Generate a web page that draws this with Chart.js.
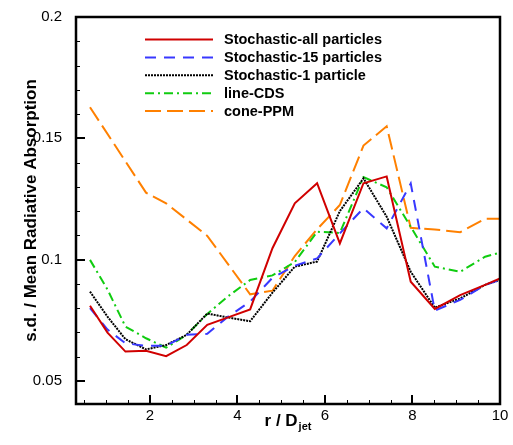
<!DOCTYPE html>
<html>
<head>
<meta charset="utf-8">
<style>
  html, body { margin: 0; padding: 0; background: #ffffff; }
  #wrap { width: 513px; height: 445px; }
</style>
<script src="https://cdn.jsdelivr.net/npm/chart.js@4/dist/chart.umd.min.js"></script>
</head>
<body>
<div id="wrap"><canvas id="c" width="513" height="445"></canvas></div>
<script>
// Radial stations r / D_jet used by the stochastic and line-CDS runs
const radius = [0.63, 1.03, 1.44, 1.91, 2.37, 2.84, 3.31, 3.77, 4.29, 4.80,
                5.31, 5.82, 6.34, 6.88, 7.41, 7.96, 8.51, 9.09, 9.66, 10.0];
// Radial stations used by the cone-PPM run
const radiusCone = [0.63, 1.91, 2.37, 3.31, 4.29, 4.80, 5.31, 5.82, 6.34, 6.88,
                    7.41, 7.96, 8.51, 9.09, 9.66, 10.0];

// s.d. / mean radiative absorption for each model
const stochAll = [0.0810, 0.0699, 0.0621, 0.0624, 0.0602, 0.0648, 0.0731, 0.0761, 0.0795, 0.1047,
                  0.1232, 0.1315, 0.1067, 0.1315, 0.1343, 0.0909, 0.0797, 0.0854, 0.0896, 0.0923];
const stoch15 = [0.0800, 0.0712, 0.0655, 0.0645, 0.0645, 0.0690, 0.0694, 0.0763, 0.0827, 0.0925,
                 0.0975, 0.1005, 0.1108, 0.1212, 0.1129, 0.1314, 0.0790, 0.0834, 0.0896, 0.0916];
const stoch1 = [0.0868, 0.0765, 0.0672, 0.0630, 0.0648, 0.0690, 0.0778, 0.0762, 0.0746, 0.0864,
                0.0971, 0.0992, 0.1200, 0.1335, 0.1177, 0.0950, 0.0802, 0.0840, 0.0896, 0.0916];
const lineCDS = [0.0999, 0.0877, 0.0724, 0.0676, 0.0637, 0.0690, 0.0776, 0.0847, 0.0916, 0.0935,
                 0.0990, 0.1115, 0.1110, 0.1340, 0.1298, 0.1135, 0.0971, 0.0950, 0.1012, 0.1029];
const conePPM = [0.1628, 0.1276, 0.1232, 0.1098, 0.0857, 0.0872, 0.1015, 0.1125, 0.1225, 0.1470,
                 0.1550, 0.1131, 0.1124, 0.1113, 0.1168, 0.1168];

const seriesLabels = ['Stochastic-all particles', 'Stochastic-15 particles',
                      'Stochastic-1 particle', 'line-CDS', 'cone-PPM'];

// Axis ranges and ticks
const xMin = 0.31, xMax = 10;
const yMin = 0.0405, yMax = 0.2;
const xMajorTicks = [2, 4, 6, 8, 10];
const yMajorTicks = [0.05, 0.1, 0.15, 0.2];
const xMinorStep = 0.5, yMinorStep = 0.01;

const FONT = '"Liberation Sans", Arial, Helvetica, sans-serif';

const pts = (xs, ys) => ys.map((v, i) => ({ x: xs[i], y: v }));

const datasets = [
  { label: seriesLabels[0], data: pts(radius, stochAll), borderColor: '#d00000', borderWidth: 2, borderDash: [] },
  { label: seriesLabels[1], data: pts(radius, stoch15), borderColor: '#3838ff', borderWidth: 2, borderDash: [11, 8] },
  { label: seriesLabels[2], data: pts(radius, stoch1), borderColor: '#000000', borderWidth: 2, borderDash: [2, 1] },
  { label: seriesLabels[3], data: pts(radius, lineCDS), borderColor: '#10cc10', borderWidth: 2, borderDash: [9, 4, 2, 4] },
  { label: seriesLabels[4], data: pts(radiusCone, conePPM), borderColor: '#ff8000', borderWidth: 2, borderDash: [16, 6] }
].map(d => Object.assign(d, { fill: false, pointRadius: 0, tension: 0, backgroundColor: d.borderColor }));

// Frame, inward tick marks, axis titles and the in-plot legend
const decorations = {
  id: 'decorations',
  afterDatasetsDraw(chart) {
    const { ctx, chartArea: a, scales: { x, y } } = chart;
    ctx.save();
    ctx.strokeStyle = '#000';

    // minor ticks
    ctx.lineWidth = 1;
    ctx.beginPath();
    for (let v = xMinorStep; v <= xMax + 1e-9; v += xMinorStep) {
      if (v < xMin) continue;
      const px = Math.round(x.getPixelForValue(v)) + 0.5;
      ctx.moveTo(px, a.bottom); ctx.lineTo(px, a.bottom - 4);
    }
    for (let v = 0.05; v <= yMax + 1e-9; v += yMinorStep) {
      const py = Math.round(y.getPixelForValue(v)) + 0.5;
      ctx.moveTo(a.left, py); ctx.lineTo(a.left + 4, py);
    }
    ctx.stroke();

    // major ticks
    ctx.lineWidth = 2;
    ctx.beginPath();
    xMajorTicks.forEach(v => {
      const px = Math.round(x.getPixelForValue(v));
      ctx.moveTo(px, a.bottom); ctx.lineTo(px, a.bottom - 9);
    });
    yMajorTicks.forEach(v => {
      const py = Math.round(y.getPixelForValue(v));
      ctx.moveTo(a.left, py); ctx.lineTo(a.left + 9, py);
    });
    ctx.stroke();

    // frame
    ctx.lineWidth = 2.5;
    ctx.strokeRect(a.left, a.top, a.right - a.left, a.bottom - a.top);

    // legend
    const lx0 = 145, lx1 = 213, tx = 224, ly0 = 39.5, dy = 17.9;
    ctx.font = 'bold 14.5px ' + FONT;
    ctx.textBaseline = 'middle';
    ctx.textAlign = 'left';
    chart.data.datasets.forEach((d, i) => {
      const yy = ly0 + i * dy;
      ctx.save();
      ctx.strokeStyle = d.borderColor;
      ctx.lineWidth = d.borderWidth;
      ctx.setLineDash(d.borderDash || []);
      ctx.beginPath();
      ctx.moveTo(lx0, yy); ctx.lineTo(lx1, yy);
      ctx.stroke();
      ctx.restore();
      ctx.fillStyle = '#000';
      ctx.fillText(d.label, tx, yy + 0.5);
    });

    // x-axis title: r / D with subscript jet
    const cx = (a.left + a.right) / 2;
    ctx.fillStyle = '#000';
    ctx.textBaseline = 'alphabetic';
    ctx.font = 'bold 17px ' + FONT;
    const mainTxt = 'r / D';
    const w1 = ctx.measureText(mainTxt).width;
    ctx.font = 'bold 11px ' + FONT;
    const w2 = ctx.measureText('jet').width;
    const start = cx - (w1 + w2 + 1) / 2;
    ctx.font = 'bold 17px ' + FONT;
    ctx.fillText(mainTxt, start, 426);
    ctx.font = 'bold 11px ' + FONT;
    ctx.fillText('jet', start + w1 + 1, 430);

    // y-axis title
    ctx.save();
    ctx.translate(31, (a.top + a.bottom) / 2);
    ctx.rotate(-Math.PI / 2);
    ctx.textAlign = 'center';
    ctx.textBaseline = 'middle';
    ctx.font = 'bold 17px ' + FONT;
    ctx.fillText('s.d. / Mean Radiative Absorption', 0, 0);
    ctx.restore();

    ctx.restore();
  }
};

new Chart(document.getElementById('c'), {
  type: 'line',
  data: { datasets },
  options: {
    responsive: false,
    devicePixelRatio: 1,
    animation: false,
    layout: { padding: { left: 0, right: 13, top: 17, bottom: 0 } },
    plugins: { legend: { display: false }, tooltip: { enabled: false } },
    scales: {
      x: {
        type: 'linear', min: xMin, max: xMax,
        grid: { display: false }, border: { display: false },
        afterBuildTicks: s => { s.ticks = xMajorTicks.map(v => ({ value: v })); },
        afterFit: s => { s.height = 41; },
        ticks: { color: '#000', padding: -5, maxRotation: 0, autoSkip: false,
                 font: { family: FONT, size: 15 }, callback: v => String(v) }
      },
      y: {
        type: 'linear', min: yMin, max: yMax,
        grid: { display: false }, border: { display: false },
        afterBuildTicks: s => { s.ticks = yMajorTicks.map(v => ({ value: v })); },
        afterFit: s => { s.width = 76; },
        ticks: { color: '#000', padding: 6, autoSkip: false,
                 font: { family: FONT, size: 15 }, callback: v => String(v) }
      }
    }
  },
  plugins: [decorations]
});
</script>
</body>
</html>
